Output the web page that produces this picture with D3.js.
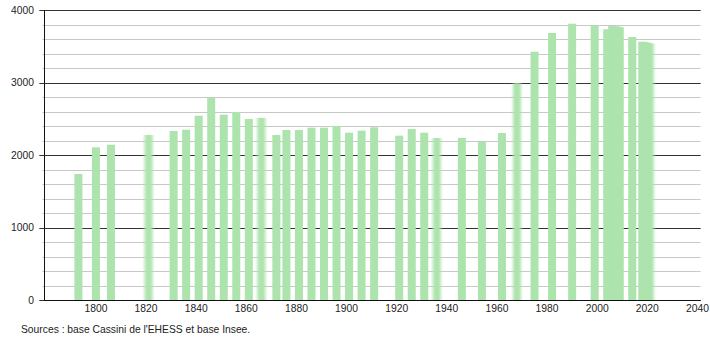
<!DOCTYPE html>
<html>
<head>
<meta charset="utf-8">
<script src="https://cdn.jsdelivr.net/npm/d3@7"></script>
<style>
  body { margin: 0; background: #fff; }
  text { font-family: "Liberation Sans", Arial, sans-serif; fill: #222; }
</style>
</head>
<body>
<svg id="chart" width="710" height="340"></svg>
<script>
const years = [
  1793, 1800, 1806, 1821, 1831, 1836, 1841, 1846, 1851, 1856, 1861, 1866,
  1872, 1876, 1881, 1886, 1891, 1896, 1901, 1906, 1911, 1921, 1926, 1931,
  1936, 1946, 1954, 1962, 1968, 1975, 1982, 1990, 1999, 2004, 2006, 2007,
  2008, 2009, 2014, 2018, 2019, 2020, 2021,
];
const population = [
  1742, 2110, 2146, 2280, 2335, 2353, 2546, 2790, 2560, 2597, 2501, 2517,
  2280, 2349, 2349, 2381, 2381, 2404, 2312, 2340, 2386, 2271, 2363, 2312,
  2239, 2241, 2190, 2307, 2993, 3429, 3687, 3815, 3788, 3738, 3783, 3780,
  3774, 3766, 3632, 3567, 3560, 3552, 3545,
];
// bars that look soft-edged in the original picture
const blurredYears = [1821, 1866, 1936, 1968, 2021];
const xTicks = [1800, 1820, 1840, 1860, 1880, 1900, 1920, 1940, 1960, 1980, 2000, 2020, 2040];
const yMajorTicks = [0, 1000, 2000, 3000, 4000];
const yMinorTicks = d3.range(0, 4001, 200).filter((v) => v % 1000 !== 0);
const sourceText = "Sources : base Cassini de l'EHESS et base Insee.";

const svg = d3.select("#chart");
const plotLeft = 44.3, plotRight = 700.7, plotTop = 10.3, plotBottom = 300.3;
const barWidth = 8;
const fontSize = 10.3;

const x = d3.scaleLinear().domain([1779.4, 2041.3]).range([plotLeft, plotRight]);
const y = d3.scaleLinear().domain([0, 4000]).range([plotBottom, plotTop]);

svg.append("defs")
  .append("filter")
  .attr("id", "soft")
  .attr("x", "-50%")
  .attr("width", "200%")
  .append("feGaussianBlur")
  .attr("stdDeviation", "1.6 0");

// grid: light lines every 200, dark every 1000
svg.append("g")
  .selectAll("line")
  .data(yMinorTicks)
  .join("line")
  .attr("x1", plotLeft - 2)
  .attr("x2", plotRight)
  .attr("y1", (d) => Math.round(y(d)) + 0.5)
  .attr("y2", (d) => Math.round(y(d)) + 0.5)
  .attr("stroke", "#c8c8c8")
  .attr("stroke-width", 1);

svg.append("g")
  .selectAll("line")
  .data(yMajorTicks)
  .join("line")
  .attr("x1", plotLeft - 5)
  .attr("x2", plotRight)
  .attr("y1", (d) => Math.round(y(d)) + 0.5)
  .attr("y2", (d) => Math.round(y(d)) + 0.5)
  .attr("stroke", "#333")
  .attr("stroke-width", 1);

// bars
const data = years.map((yr, i) => ({ year: yr, value: population[i] }));
svg.append("g")
  .selectAll("rect")
  .data(data)
  .join("rect")
  .attr("x", (d) => x(d.year) - barWidth / 2)
  .attr("width", barWidth)
  .attr("y", (d) => y(d.value))
  .attr("height", (d) => y(0) - y(d.value))
  .attr("fill", "#ade3ad")
  .attr("filter", (d) => (blurredYears.includes(d.year) ? "url(#soft)" : null));

// redraw the axis lines over the bars
svg.append("line")
  .attr("x1", plotLeft)
  .attr("x2", plotRight)
  .attr("y1", Math.round(y(0)) + 0.5)
  .attr("y2", Math.round(y(0)) + 0.5)
  .attr("stroke", "#111");

svg.append("line")
  .attr("x1", Math.round(plotLeft) + 0.5)
  .attr("x2", Math.round(plotLeft) + 0.5)
  .attr("y1", y(4000))
  .attr("y2", y(0))
  .attr("stroke", "#111");

// y labels
svg.append("g")
  .selectAll("text")
  .data(yMajorTicks)
  .join("text")
  .attr("x", 34)
  .attr("y", (d) => y(d))
  .attr("dy", "0.35em")
  .attr("text-anchor", "end")
  .attr("font-size", fontSize)
  .text((d) => d);

// x labels
svg.append("g")
  .selectAll("text")
  .data(xTicks)
  .join("text")
  .attr("x", (d) => x(d))
  .attr("y", 312)
  .attr("text-anchor", "middle")
  .attr("font-size", fontSize)
  .text((d) => d);

svg.append("text")
  .attr("x", 21)
  .attr("y", 333)
  .attr("font-size", fontSize)
  .text(sourceText);
</script>
</body>
</html>
